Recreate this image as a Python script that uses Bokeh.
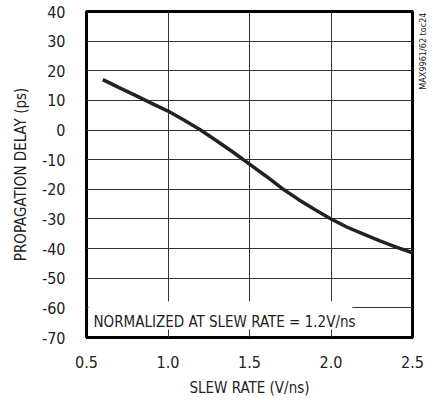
from bokeh.plotting import figure
from bokeh.models import Range1d, FixedTicker, Label, BoxAnnotation
from bokeh.embed import file_html
from bokeh.resources import INLINE

# data
slew_rate = [0.6, 0.7, 0.8, 0.9, 1.0, 1.1, 1.2, 1.3, 1.4, 1.5, 1.6, 1.7, 1.8, 1.9, 2.0, 2.1, 2.2, 2.3, 2.4, 2.5]
delay_ps = [17.0, 14.3, 11.7, 9.0, 6.4, 3.3, 0.0, -3.7, -7.5, -11.5, -15.5, -19.7, -23.4, -26.8, -30.0, -32.8, -35.1, -37.4, -39.5, -41.4]

x_ticks = [0.5, 1.0, 1.5, 2.0, 2.5]
x_tick_labels = ["0.5", "1.0", "1.5", "2.0", "2.5"]
y_ticks = [-70, -60, -50, -40, -30, -20, -10, 0, 10, 20, 30, 40]
y_tick_labels = ["-70", "-60", "-50", "-40", "-30", "-20", "-10", "0", "10", "20", "30", "40"]

FONT = "DejaVu Sans Condensed, Liberation Sans Narrow, Liberation Sans, sans-serif"
INK = "#222222"

p = figure(width=434, height=400, output_backend="svg", toolbar_location=None,
           x_range=Range1d(0.5, 2.5), y_range=Range1d(-70, 40))
p.min_border_left = 86
p.min_border_right = 22
p.min_border_top = 11
p.min_border_bottom = 63
p.background_fill_color = "white"
p.border_fill_color = "white"
p.outline_line_color = "black"
p.outline_line_width = 3
p.outline_line_alpha = 1.0

p.xaxis.ticker = FixedTicker(ticks=x_ticks)
p.xaxis.major_label_overrides = {t: l for t, l in zip(x_ticks, x_tick_labels)}
p.yaxis.ticker = FixedTicker(ticks=y_ticks)
p.yaxis.major_label_overrides = {t: l for t, l in zip(y_ticks, y_tick_labels)}
p.xgrid.ticker = FixedTicker(ticks=x_ticks)
p.ygrid.ticker = FixedTicker(ticks=y_ticks)

for ax in (p.xaxis[0], p.yaxis[0]):
    ax.axis_line_color = None
    ax.major_tick_line_color = None
    ax.minor_tick_line_color = None
    ax.major_label_text_font = FONT
    ax.major_label_text_font_size = "16px"
    ax.major_label_text_color = INK
    ax.axis_label_text_font = FONT
    ax.axis_label_text_font_size = "15px"
    ax.axis_label_text_font_style = "normal"
    ax.axis_label_text_color = INK

p.xaxis.axis_label = "SLEW RATE (V/ns)"
p.yaxis.axis_label = "PROPAGATION DELAY (ps)"
p.xaxis.major_label_standoff = 12
p.xaxis.axis_label_standoff = 8
p.yaxis.major_label_standoff = 15
p.yaxis.axis_label_standoff = 9

for g in (p.xgrid[0], p.ygrid[0]):
    g.grid_line_color = "#333333"
    g.grid_line_width = 1
    g.grid_line_alpha = 1.0

p.line(slew_rate, delay_ps, line_color=INK, line_width=3.5)

box = BoxAnnotation(left=0.512, right=2.132, bottom=-67.3, top=-57.8,
                    fill_color="white", fill_alpha=1.0, line_color=None)
p.add_layout(box)

note = Label(x=0.543, y=-64.9, text="NORMALIZED AT SLEW RATE = 1.2V/ns",
             text_font=FONT, text_font_size="15px", text_color=INK,
             text_align="left", text_baseline="alphabetic")
p.add_layout(note)

tag = Label(x=10, y=325, x_units="screen", y_units="screen",
            text="MAX9961/62 toc24", angle=1.5708,
            text_font=FONT, text_font_size="9px", text_color=INK,
            text_align="right", text_baseline="middle")
p.add_layout(tag, "right")

open("out.html", "w").write(file_html(p, INLINE))
